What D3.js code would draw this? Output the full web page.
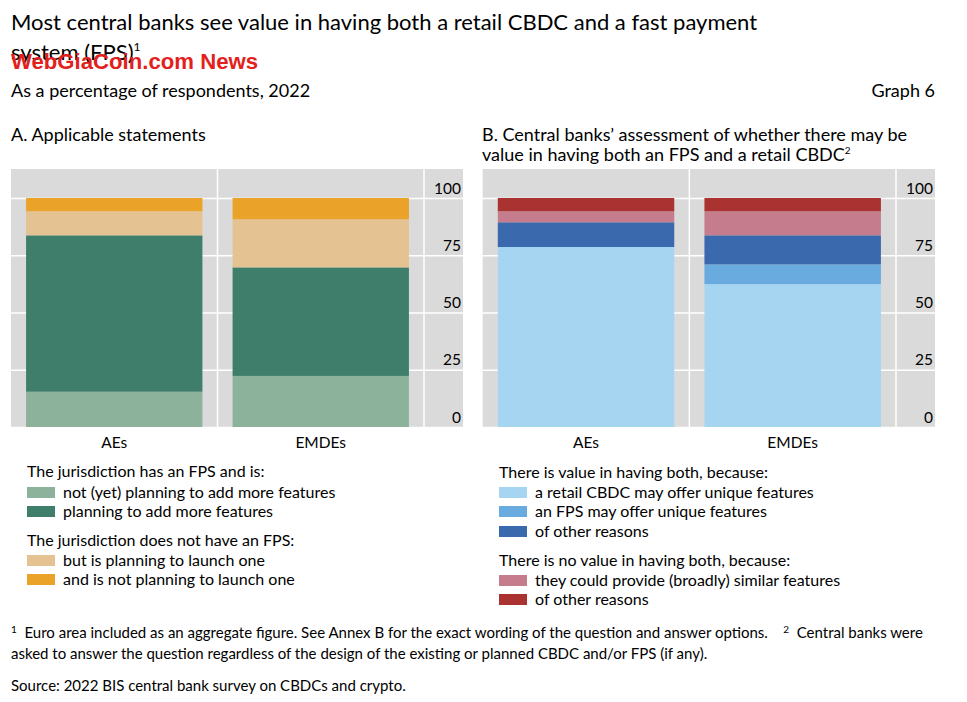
<!DOCTYPE html>
<html><head><meta charset="utf-8">
<script src="https://cdn.jsdelivr.net/npm/d3@7"></script>
<style>body{margin:0;background:#fff}svg{display:block;font-family:Lato,"Open Sans",sans-serif;fill:#000}</style>
</head><body><svg id="c" width="967" height="702"></svg>
<script>
// ---- data ----
const categories = ["AEs", "EMDEs"];
const yTicks = [0, 25, 50, 75, 100];
// Panel A
const aNotPlanning = [15.4, 22.3];
const aPlanning = [68.3, 47.4];
const aLaunch = [10.5, 21.0];
const aNoLaunch = [5.8, 9.3];
const aLabels = ["not (yet) planning to add more features", "planning to add more features",
                 "but is planning to launch one", "and is not planning to launch one"];
// Panel B
const bCbdc = [78.6, 62.4];
const bFps = [0, 8.6];
const bOtherValue = [10.8, 12.7];
const bSimilar = [4.8, 10.5];
const bOtherNo = [5.8, 5.8];
const bLabels = ["a retail CBDC may offer unique features", "an FPS may offer unique features", "of other reasons",
                 "they could provide (broadly) similar features", "of other reasons"];

const colorsA = ["#8cb29b", "#3f7e6b", "#e5c292", "#eba228"];
const colorsB = ["#a6d5f2", "#6aabdf", "#3b69ad", "#c57c8c", "#aa3230"];

const svg = d3.select("#c");

function panel(x0, xEnd, seriesList, colors) {
  const plotTop = 169, plotBottom = 427;
  const y = d3.scaleLinear().domain([0, 100]).range([427, 198]);
  const x = d3.scaleBand().domain(categories).range([x0, x0 + (xEnd - x0 - 39)])
    .paddingInner(0.146).paddingOuter(0.073);
  const g = svg.append("g");
  g.append("rect").attr("x", x0).attr("y", plotTop).attr("width", xEnd - x0)
    .attr("height", plotBottom - plotTop).attr("fill", "#dadada");
  const ax = g.append("g").attr("transform", `translate(${xEnd},0)`)
    .call(d3.axisLeft(y).tickValues(yTicks).tickSize(xEnd - x0).tickPadding(0));
  ax.select(".domain").remove();
  ax.selectAll("line").attr("stroke", "#fff").attr("stroke-width", 1.5);
  ax.selectAll("text").attr("x", -2).attr("dy", 0).attr("y", -5)
    .attr("fill", "#000").style("font-size", "15.5px").style("font-family", "Lato, 'Open Sans', sans-serif");
  // separators
  const step = x.step();
  [1, 2].forEach(i => {
    g.append("line").attr("x1", x0 + step * i).attr("x2", x0 + step * i)
      .attr("y1", plotTop).attr("y2", plotBottom).attr("stroke", "#fff").attr("stroke-width", 1.5);
  });
  const rows = categories.map((c, i) => {
    const r = { cat: c };
    seriesList.forEach((s, k) => r["s" + k] = s[i]);
    return r;
  });
  const keys = seriesList.map((s, k) => "s" + k);
  const stacked = d3.stack().keys(keys)(rows);
  stacked.forEach((layer, k) => {
    g.selectAll(null).data(layer).enter().append("rect")
      .attr("x", d => x(d.data.cat)).attr("width", x.bandwidth())
      .attr("y", d => y(d[1])).attr("height", d => y(d[0]) - y(d[1]))
      .attr("fill", colors[k]);
  });
  g.selectAll(null).data(categories).enter().append("text")
    .attr("x", d => x(d) + x.bandwidth() / 2).attr("y", 448)
    .attr("text-anchor", "middle").style("font-size", "15.5px").text(d => d);
}

panel(11, 463, [aNotPlanning, aPlanning, aLaunch, aNoLaunch], colorsA);
panel(482.7, 935, [bCbdc, bFps, bOtherValue, bSimilar, bOtherNo], colorsB);

// ---- titles ----
const t1 = svg.append("text").attr("x", 11).attr("y", 30).style("font-size", "22px");
t1.text("Most central banks see value in having both a retail CBDC and a fast payment");
const t2 = svg.append("text").attr("x", 11).attr("y", 60).style("font-size", "22px");
t2.append("tspan").text("system (FPS)");
t2.append("tspan").attr("dy", -9).style("font-size", "12px").text("1");
svg.append("text").attr("x", 11).attr("y", 69).attr("fill", "#e3211c")
  .style("font-family", "'Liberation Sans Narrow', 'Liberation Sans', sans-serif")
  .style("font-weight", "bold").style("font-size", "22px")
  .attr("textLength", 247).attr("lengthAdjust", "spacingAndGlyphs")
  .text("WebGiaCoin.com News");
svg.append("text").attr("x", 11).attr("y", 97).style("font-size", "18px").text("As a percentage of respondents, 2022");
svg.append("text").attr("x", 935).attr("y", 97).attr("text-anchor", "end").style("font-size", "18px").text("Graph 6");

svg.append("text").attr("x", 11).attr("y", 141).style("font-size", "18px").text("A. Applicable statements");
svg.append("text").attr("x", 482).attr("y", 141).style("font-size", "18px")
  .text("B. Central banks\u2019 assessment of whether there may be");
const pb2 = svg.append("text").attr("x", 482).attr("y", 161).style("font-size", "18px");
pb2.append("tspan").text("value in having both an FPS and a retail CBDC");
pb2.append("tspan").attr("dy", -7).style("font-size", "10px").text("2");

// ---- legends ----
function legend(x, headers, groups, labels, colors) {
  let idx = 0;
  groups.forEach((grp, gi) => {
    svg.append("text").attr("x", x).attr("y", headers[gi].y).style("font-size", "16px").text(headers[gi].t);
    grp.forEach((yy) => {
      svg.append("rect").attr("x", x).attr("y", yy - 5).attr("width", 28).attr("height", 11).attr("fill", colors[idx]);
      svg.append("text").attr("x", x + 36).attr("y", yy + 5.5).style("font-size", "16px").text(labels[idx]);
      idx++;
    });
  });
}
legend(27, [{ t: "The jurisdiction has an FPS and is:", y: 477 }, { t: "The jurisdiction does not have an FPS:", y: 546 }],
  [[492, 511], [560, 579]], aLabels, colorsA);
legend(499, [{ t: "There is value in having both, because:", y: 478 }, { t: "There is no value in having both, because:", y: 566 }],
  [[492, 511, 531], [580, 599]], bLabels, colorsB);

// ---- footnotes ----
const f1 = svg.append("text").attr("x", 11).attr("y", 638).style("font-size", "15px").style("white-space", "pre");
f1.append("tspan").attr("dy", -5).style("font-size", "10px").text("1");
f1.append("tspan").attr("dy", 5).text("  Euro area included as an aggregate figure. See Annex B for the exact wording of the question and answer options.    ");
f1.append("tspan").attr("dy", -5).style("font-size", "10px").text("2");
f1.append("tspan").attr("dy", 5).text("  Central banks were");
svg.append("text").attr("x", 11).attr("y", 659).style("font-size", "15px")
  .text("asked to answer the question regardless of the design of the existing or planned CBDC and/or FPS (if any).");
svg.append("text").attr("x", 11).attr("y", 691).style("font-size", "15px")
  .text("Source: 2022 BIS central bank survey on CBDCs and crypto.");
</script></body></html>
